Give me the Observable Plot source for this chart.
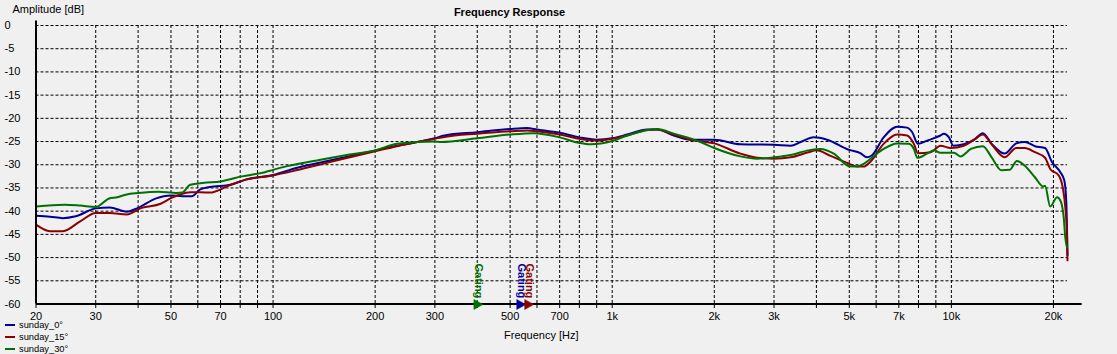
<!DOCTYPE html>
<html><head><meta charset="utf-8">
<script src="https://cdn.jsdelivr.net/npm/d3@7"></script>
<script src="https://cdn.jsdelivr.net/npm/@observablehq/plot@0.6"></script>
<style>
html,body{margin:0;padding:0;background:#f0f0f0;}
#wrap{position:relative;width:1117px;height:354px;overflow:hidden;}
#legend{position:absolute;left:5px;top:319.5px;font:9.3px "Liberation Sans",Arial,sans-serif;color:#000;}
.row{height:11.7px;display:flex;align-items:center;white-space:nowrap;}
.sw{width:10px;height:2px;margin-right:4px;}
</style></head><body><div id="wrap"></div>
<script>
// ---- data ----
const seriesNames = ["sunday_0°", "sunday_15°", "sunday_30°"];
const seriesColors = ["#000099", "#8b0000", "#007000"];

const freq0 = [20,22,24,26.2,30,33,37,40,45,50,54,57.6,61,65,75,83,100,117,147,200,232,300,320,400,500,561,600,700,800,900,1000,1107,1268,1357,1519,1700,2000,2388,3000,3360,3594,3927,4300,5000,5390,5637,5824,6314,6918,7404,7666,7970,8482,9283,9503,9839,10137,10877,11676,12382,13146,14361,15540,16460,17640,18890,19800,20960,21530,21810,21920,22000];
const db0   = [-41.0,-41.2,-41.5,-41.1,-39.4,-39.2,-40.1,-39.3,-37.3,-36.6,-36.8,-36.8,-35.3,-34.8,-34.3,-33.2,-32.2,-30.7,-29.1,-26.9,-25.9,-24.3,-23.7,-23.0,-22.3,-22.1,-22.4,-23.1,-24.1,-24.6,-24.3,-23.5,-22.4,-22.4,-23.7,-24.6,-24.6,-25.6,-25.7,-25.9,-25.1,-24.1,-24.6,-26.8,-27.5,-28.4,-28.0,-24.1,-21.8,-22.0,-23.0,-25.5,-24.8,-23.7,-23.3,-24.1,-25.9,-25.6,-24.6,-23.2,-25.5,-27.6,-25.4,-25.1,-26.0,-26.4,-29.4,-31.6,-33.4,-37.7,-43.4,-49.5];

const freq15 = [20,22,24,27,30,33,37,41,46.6,50,55,57,65,75,83,100,117,147,200,232,300,320,400,500,561,600,700,800,900,1000,1107,1268,1357,1519,1700,2000,2388,2674,3000,3360,3790,4000,4400,5000,5274,5514,5762,6314,6918,7404,7753,7970,8692,9283,9955,10877,11676,12382,13146,14361,15540,16460,17640,18890,19565,20730,21340,21670,21920,22000];
const db15   = [-42.9,-44.3,-44.3,-42.2,-40.4,-40.4,-40.7,-39.3,-38.4,-37.2,-36.1,-35.9,-36.0,-34.3,-33.2,-32.3,-31.2,-29.4,-27.1,-26.0,-24.4,-24.0,-23.3,-22.8,-22.6,-22.8,-23.5,-24.4,-24.8,-24.4,-23.7,-22.5,-22.4,-23.5,-24.6,-25.4,-27.6,-28.5,-28.7,-28.4,-27.3,-26.9,-28.1,-29.8,-30.4,-30.4,-29.4,-25.5,-23.5,-23.7,-25.5,-27.5,-27.3,-25.9,-26.4,-25.9,-24.6,-23.5,-25.6,-28.4,-26.4,-26.4,-27.3,-28.5,-30.9,-32.3,-35.2,-39.1,-44.9,-50.6];

const freq30 = [20,24.3,27,30,33,34.7,37,40,46,50,52,54,57,62.6,70,81,94.6,100,110,138,168,200,232,300,312,400,500,587,700,800,862,1000,1107,1357,1519,1822,2000,2388,2674,3000,3360,3790,4110,4500,5000,5274,5514,5824,6314,6918,7489,7753,7937,8482,8900,9283,10182,10632,11420,12382,13146,14043,14853,15607,16460,17640,18665,18890,19565,20500,20960,21440,21670,21920];
const db30   = [-39.0,-38.6,-38.8,-39.1,-37.2,-37.0,-36.4,-36.1,-35.8,-36.0,-36.1,-36.0,-34.3,-33.9,-33.6,-32.5,-31.6,-31.1,-30.3,-28.9,-27.8,-26.9,-25.5,-25.0,-25.1,-24.3,-23.5,-23.2,-24.1,-25.3,-25.6,-24.9,-23.7,-22.3,-23.3,-25.1,-26.4,-28.2,-28.7,-28.4,-27.9,-26.9,-26.6,-27.6,-30.3,-30.4,-29.8,-28.5,-26.6,-25.4,-25.5,-26.6,-28.5,-27.6,-26.9,-27.4,-27.4,-28.2,-26.6,-26.0,-28.4,-31.2,-31.1,-29.2,-30.2,-32.7,-34.7,-34.5,-39.0,-37.0,-37.7,-41.3,-45.6,-47.8];

const gatingFreqs = [523, 552, 391];
const gatingLabel = "Gating";

const yTicks = [0,-5,-10,-15,-20,-25,-30,-35,-40,-45,-50,-55,-60];
const yGrid = [0,-5,-10,-15,-20,-25,-30,-35,-40,-45,-50,-55];
const xTickValues = [20,30,50,70,100,200,300,500,700,1000,2000,3000,5000,7000,10000,20000];
const xTickLabels = ["20","30","50","70","100","200","300","500","700","1k","2k","3k","5k","7k","10k","20k"];
const xGrid = [20,30,40,50,60,70,80,90,100,200,300,400,500,600,700,800,900,1000,2000,3000,4000,5000,6000,7000,8000,9000,10000,20000];

// ---- build ----
const freqs = [freq0, freq15, freq30];
const dbs = [db0, db15, db30];
const curves = seriesNames.map((name, s) => freqs[s].map((f, i) => ({f, db: dbs[s][i], name})));
const gating = gatingFreqs.map((f, s) => ({f, color: seriesColors[s]}));
const xTicks = xTickValues.map((v, i) => ({v, label: xTickLabels[i]}));

const rightTriangle = {
  draw(ctx) { ctx.moveTo(0, -4.5); ctx.lineTo(9, 0.5); ctx.lineTo(0, 5.5); ctx.closePath(); }
};

const font = "Liberation Sans, Arial, sans-serif";
const marks = [
  Plot.ruleX(xGrid, {x: d => d, y1: 0, y2: -61.2, stroke: "#000", strokeWidth: 1, strokeDasharray: "3,2"}),
  Plot.ruleY(yGrid, {y: d => d, x1: 20, x2: 22000, stroke: "#000", strokeWidth: 1, strokeDasharray: "3,2"}),
  ...curves.map((c, s) => Plot.line(c, {x: "f", y: "db", stroke: seriesColors[s], strokeWidth: 2, strokeLinejoin: "round", curve: "monotone-x"})),
  Plot.ruleY([-60], {x1: 20, x2: 24300, stroke: "#000", strokeWidth: 2}),
  Plot.ruleX([20], {y1: 0.95, y2: -60, stroke: "#000", strokeWidth: 2}),
  Plot.dot(gating, {x: "f", frameAnchor: "bottom", symbol: rightTriangle, fill: "color", stroke: "color", strokeWidth: 0.5, r: 5}),
  Plot.text(gating, {x: "f", frameAnchor: "bottom", dy: -40.5, dx: 4.8, text: () => gatingLabel, rotate: 90, textAnchor: "start", lineAnchor: "middle", fill: "color", fontWeight: "bold", fontSize: 11, fontFamily: font}),
  Plot.text(yTicks, {y: d => d, text: d => String(d), frameAnchor: "left", dx: -31.5, textAnchor: "start", lineAnchor: "middle", fontSize: 11, fontFamily: font, fill: "#000"}),
  Plot.text(xTicks, {x: "v", text: "label", frameAnchor: "bottom", dy: 16, lineAnchor: "bottom", textAnchor: "middle", fontSize: 11, fontFamily: font, fill: "#000"}),
  Plot.text(["Amplitude [dB]"], {frameAnchor: "top-left", dx: -23.5, dy: -13, textAnchor: "start", lineAnchor: "bottom", fontSize: 11, fontFamily: font, fill: "#000"}),
  Plot.text(["Frequency Response"], {frameAnchor: "top-left", dx: 473.5, dy: -10, textAnchor: "middle", lineAnchor: "bottom", fontSize: 11, fontWeight: "bold", fontFamily: font, fill: "#000"}),
  Plot.text(["Frequency [Hz]"], {frameAnchor: "bottom-left", dx: 505.3, dy: 35, textAnchor: "middle", lineAnchor: "bottom", fontSize: 11, fontFamily: font, fill: "#000"})
];

const chart = Plot.plot({
  width: 1117, height: 354,
  marginLeft: 35.5, marginRight: 50, marginTop: 25, marginBottom: 50.5,
  x: {type: "log", domain: [20, 22000], axis: null},
  y: {domain: [-60, 0], axis: null},
  style: {background: "#f0f0f0", fontFamily: font, fontSize: "11px", overflow: "visible"},
  marks
});
const wrap = document.getElementById("wrap");
wrap.appendChild(chart);

const legend = document.createElement("div");
legend.id = "legend";
seriesNames.forEach((name, s) => {
  const row = document.createElement("div"); row.className = "row";
  const sw = document.createElement("span"); sw.className = "sw"; sw.style.background = seriesColors[s];
  const t = document.createElement("span"); t.textContent = name;
  row.appendChild(sw); row.appendChild(t); legend.appendChild(row);
});
wrap.appendChild(legend);
</script></body></html>
